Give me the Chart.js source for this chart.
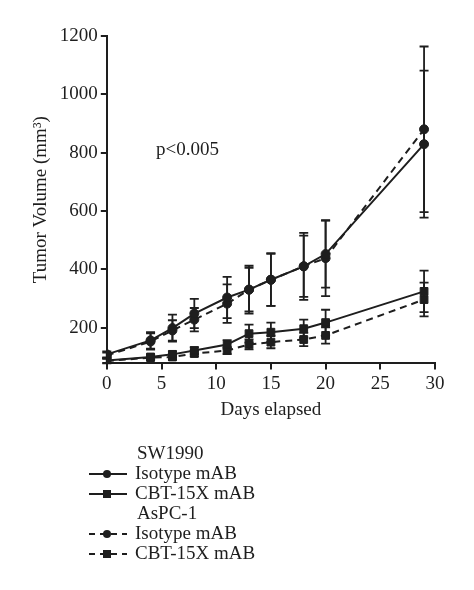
<!DOCTYPE html>
<html>
<head>
<meta charset="utf-8">
<script src="https://cdn.jsdelivr.net/npm/chart.js@4/dist/chart.umd.min.js"></script>
<style>
  html, body { margin: 0; padding: 0; background: #fff; }
  #wrap { width: 474px; height: 590px; }
</style>
</head>
<body>
<div id="wrap"><canvas id="myChart" width="474" height="590"></canvas></div>
<script>
// Days measured
var days = [0, 4, 6, 8, 11, 13, 15, 18, 20, 29];

// SW1990 group
var swIsotype = [108, 156, 198, 248, 303, 330, 364, 410, 452, 829];
var swIsotypeErr = [10, 28, 46, 50, 71, 82, 90, 115, 115, 252];
var swCbt = [87, 99, 108, 121, 142, 179, 184, 196, 217, 324];
var swCbtErr = [8, 8, 10, 12, 15, 31, 33, 31, 44, 71];

// AsPC-1 group
var asIsotype = [104, 152, 190, 227, 282, 330, 364, 410, 438, 880];
var asIsotypeErr = [10, 28, 35, 40, 66, 75, 90, 105, 130, 284];
var asCbt = [85, 97, 99, 111, 121, 142, 150, 159, 173, 296];
var asCbtErr = [8, 8, 9, 10, 12, 17, 21, 23, 28, 58];

var yTicks = [200, 400, 600, 800, 1000, 1200];
var xTicks = [0, 5, 10, 15, 20, 25, 30];

var ink = '#1e1e1e';
var serif = "'Liberation Serif', 'Times New Roman', serif";

function toPoints(vals) {
    return vals.map((v, i) => ({x: days[i], y: v}));
}

function series(label, vals, err, shape, dashed) {
    return {
        label: label,
        data: toPoints(vals),
        errors: err,
        borderColor: ink,
        backgroundColor: ink,
        borderWidth: 2,
        borderDash: dashed ? [7, 5] : [],
        pointStyle: shape,
        pointRadius: shape === 'rect' ? 5.5 : 4.5,
        pointBorderWidth: 1,
        tension: 0
    };
}

// draws the error bars under the points, using the chart scales
const errorBars = {
    id: 'errorBars',
    beforeDatasetsDraw(chart) {
        var ctx = chart.ctx;
        var xs = chart.scales.x, ys = chart.scales.y;
        ctx.save();
        ctx.strokeStyle = ink;
        ctx.lineWidth = 1.8;
        chart.data.datasets.forEach((ds) => {
            ds.data.forEach((p, i) => {
                var e = ds.errors[i];
                var px = xs.getPixelForValue(p.x);
                var top = ys.getPixelForValue(p.y + e);
                var bot = ys.getPixelForValue(p.y - e);
                ctx.beginPath();
                ctx.moveTo(px, top); ctx.lineTo(px, bot);
                ctx.moveTo(px - 4.5, top); ctx.lineTo(px + 4.5, top);
                ctx.moveTo(px - 4.5, bot); ctx.lineTo(px + 4.5, bot);
                ctx.stroke();
            });
        });
        ctx.restore();
    }
};

// p-value note and the grouped legend underneath
const extras = {
    id: 'extras',
    afterDraw(chart) {
        var ctx = chart.ctx;
        var xs = chart.scales.x, ys = chart.scales.y;
        ctx.save();
        ctx.fillStyle = ink;
        ctx.font = "19px " + serif;
        ctx.textBaseline = 'middle';
        ctx.textAlign = 'left';
        ctx.fillText('p<0.005', xs.getPixelForValue(4.5), ys.getPixelForValue(808));

        var rows = [
            {text: 'SW1990'},
            {text: 'Isotype mAB', ds: 0},
            {text: 'CBT-15X mAB', ds: 1},
            {text: 'AsPC-1'},
            {text: 'Isotype mAB', ds: 2},
            {text: 'CBT-15X mAB', ds: 3}
        ];
        var top = 454, step = 20, textX = 135;
        rows.forEach((r, i) => {
            var y = top + i * step;
            ctx.fillStyle = ink;
            ctx.fillText(r.text, r.ds === undefined ? textX + 2 : textX, y);
            if (r.ds === undefined) return;
            var ds = chart.data.datasets[r.ds];
            ctx.strokeStyle = ink;
            ctx.lineWidth = 2;
            ctx.setLineDash(ds.borderDash.length ? [6, 5] : []);
            ctx.beginPath();
            ctx.moveTo(89, y); ctx.lineTo(127, y);
            ctx.stroke();
            ctx.setLineDash([]);
            if (ds.pointStyle === 'rect') {
                ctx.fillRect(103, y - 4, 8, 8);
            } else {
                ctx.beginPath();
                ctx.arc(107, y, 4, 0, Math.PI * 2);
                ctx.fill();
            }
        });
        ctx.restore();
    }
};

var chart = new Chart(document.getElementById('myChart').getContext('2d'), {
    type: 'line',
    data: {
        datasets: [
            series('SW1990 Isotype mAB', swIsotype, swIsotypeErr, 'circle', false),
            series('SW1990 CBT-15X mAB', swCbt, swCbtErr, 'rect', false),
            series('AsPC-1 Isotype mAB', asIsotype, asIsotypeErr, 'circle', true),
            series('AsPC-1 CBT-15X mAB', asCbt, asCbtErr, 'rect', true)
        ]
    },
    options: {
        responsive: false,
        animation: false,
        events: [],
        layout: {padding: {top: 36, right: 39, left: 26, bottom: 165}},
        plugins: {legend: {display: false}, tooltip: {enabled: false}},
        scales: {
            x: {
                type: 'linear',
                min: 0,
                max: 30,
                afterBuildTicks: (s) => { s.ticks = xTicks.map(v => ({value: v})); },
                grid: {display: true, drawOnChartArea: false, drawTicks: true, tickLength: 6, color: ink, lineWidth: 2},
                border: {display: true, color: ink, width: 2},
                ticks: {color: ink, font: {family: serif, size: 19}, padding: 3, maxRotation: 0, callback: (v) => String(v)},
                title: {display: true, text: 'Days elapsed', color: ink, font: {family: serif, size: 19}, padding: {top: 0}}
            },
            y: {
                min: 77,
                max: 1200,
                afterBuildTicks: (s) => { s.ticks = yTicks.map(v => ({value: v})); },
                grid: {display: true, drawOnChartArea: false, drawTicks: true, tickLength: 6, color: ink, lineWidth: 2},
                border: {display: true, color: ink, width: 2},
                ticks: {color: ink, font: {family: serif, size: 19}, padding: 3, callback: (v) => String(v)},
                title: {display: true, text: 'Tumor Volume (mm³)', color: ink, font: {family: serif, size: 19}, padding: {bottom: 4}}
            }
        }
    },
    plugins: [errorBars, extras]
});
</script>
</body>
</html>
